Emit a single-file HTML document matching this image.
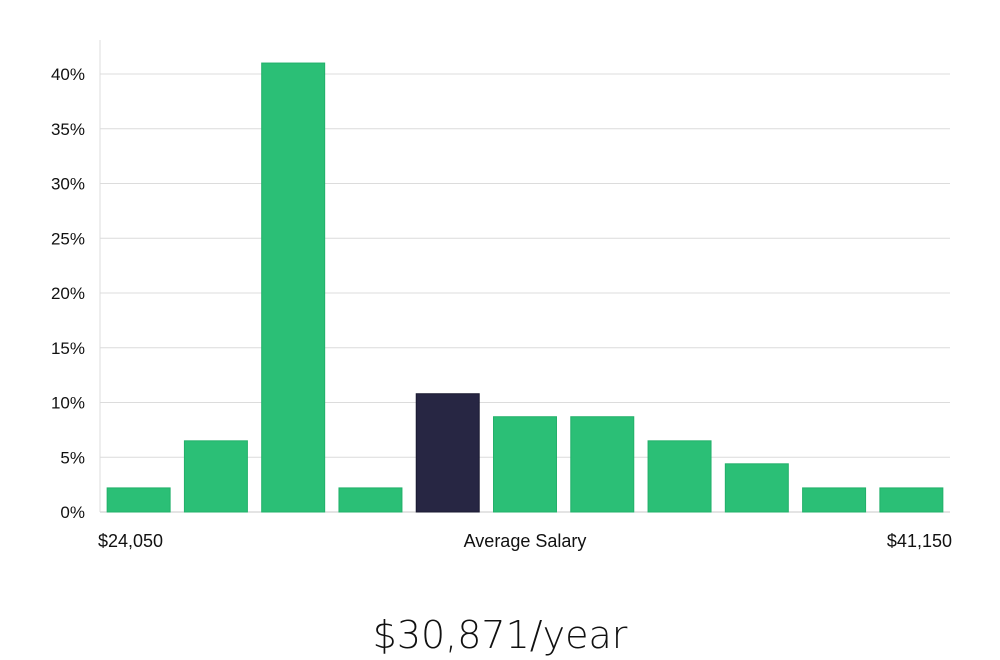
<!DOCTYPE html>
<html><head><meta charset="utf-8"><style>
html,body{margin:0;padding:0;background:#fff;width:1000px;height:660px;overflow:hidden;font-family:"Liberation Sans","DejaVu Sans",sans-serif;}
</style></head><body>
<svg width="1000" height="660">
<g id="grid"></g>
<g id="bars"></g>
<g id="labels"></g>
</svg>
<script>
const categories=["b1","b2","b3","b4","b5","b6","b7","b8","b9","b10","b11"];
const values=[2.2,6.5,41.0,2.2,10.8,8.7,8.7,6.5,4.4,2.2,2.2];
const highlightIndex=4;
const yTicks=[0,5,10,15,20,25,30,35,40];
const xLabels=["$24,050","Average Salary","$41,150"];
const title="$30,871/year";
const NS="http://www.w3.org/2000/svg";
const X0=100,X1=950,Y0=512,Y40=74;
const y=v=>Y0-(v/40)*(Y0-Y40);
const band=(X1-X0)/categories.length;
const x=i=>X0+i*band;
function mk(t,a,p){const e=document.createElementNS(NS,t);for(const k in a)e.setAttribute(k,a[k]);p.appendChild(e);return e;}
const grid=document.getElementById('grid'),bars=document.getElementById('bars'),labels=document.getElementById('labels');
yTicks.forEach(t=>{
 const l=mk('line',{x1:X0,x2:X1,y1:y(t),y2:y(t),stroke:t===0?'#c8c8c8':'#dcdcdc','stroke-width':1},grid);
 
 
 const tx=mk('text',{x:85,y:y(t)+6,'text-anchor':'end','font-size':17,fill:'#111'},labels);
 tx.textContent=t+'%';
 
 
});
const ax=mk('line',{x1:X0,x2:X0,y1:40,y2:Y0,stroke:'#dcdcdc','stroke-width':1},grid);


values.forEach((v,i)=>{
 const bw=band*0.815;
 const hi=i===highlightIndex;
 const r=mk('rect',{x:x(i)+(band-bw)/2,y:y(v),width:bw,height:Y0-y(v),fill:hi?'#272643':'#2bbf76',stroke:hi?'#1a1930':'#22b06a','stroke-width':1},bars);
 
 
});
const pos=[[98,'start'],[525,'middle'],[952,'end']];
xLabels.forEach((s,i)=>{
 const t=mk('text',{x:pos[i][0],y:547,'text-anchor':pos[i][1],'font-size':18,fill:'#111'},labels);
 t.textContent=s;
 
 
});
const tt=mk('text',{x:500,y:648,'text-anchor':'middle','font-size':38,fill:'#111','font-family':'"DejaVu Sans","Liberation Sans",sans-serif','font-weight':300},labels);
tt.textContent=title;


</script>
</body></html>
